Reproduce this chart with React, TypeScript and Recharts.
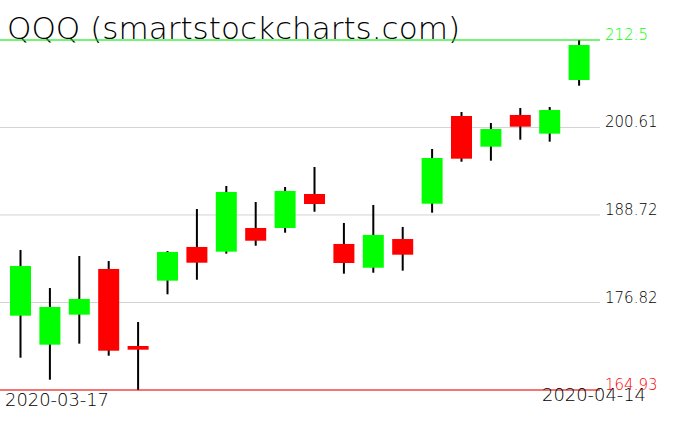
import React from "react";
import { Bar, CartesianGrid, ComposedChart, ReferenceLine, XAxis, YAxis } from "recharts";

document.body.style.margin = "0";

const dates = [
  "2020-03-17", "2020-03-18", "2020-03-19", "2020-03-20", "2020-03-23",
  "2020-03-24", "2020-03-25", "2020-03-26", "2020-03-27", "2020-03-30",
  "2020-03-31", "2020-04-01", "2020-04-02", "2020-04-03", "2020-04-06",
  "2020-04-07", "2020-04-08", "2020-04-09", "2020-04-13", "2020-04-14",
];
const opens = [
  175.03, 171.09, 175.17, 181.38, 170.91, 179.79, 184.37, 183.73, 186.95, 186.95,
  191.57, 184.78, 181.55, 185.45, 190.25, 202.17, 198.0, 202.31, 199.77, 207.06,
];
const highs = [
  183.96, 178.79, 183.14, 182.46, 174.17, 183.82, 189.53, 192.66, 190.48, 192.52,
  195.24, 187.63, 190.08, 187.09, 197.69, 202.71, 201.22, 203.26, 203.39, 212.5,
];
const lows = [
  169.32, 166.33, 171.23, 169.59, 164.93, 177.94, 179.92, 183.46, 184.54, 186.31,
  189.16, 180.74, 180.87, 181.15, 189.03, 195.96, 196.1, 198.95, 198.68, 206.29,
];
const closes = [
  181.78, 176.21, 177.3, 170.27, 170.41, 183.69, 182.23, 191.84, 185.22, 191.98,
  190.21, 182.19, 186.0, 183.32, 196.46, 196.37, 200.4, 200.72, 202.99, 211.82,
];
const yTicks = [164.93, 176.82, 188.72, 200.61, 212.5];
const title = "QQQ (smartstockcharts.com)";

const data = dates.map((date, i) => ({
  date,
  open: opens[i],
  high: highs[i],
  low: lows[i],
  close: closes[i],
  range: [lows[i], highs[i]],
}));

const Candle = (props: any) => {
  const { x, y, width, height, payload } = props;
  const { open, close, high, low } = payload;
  const k = high === low ? 0 : height / (high - low);
  const top = y + (high - Math.max(open, close)) * k;
  const bottom = y + (high - Math.min(open, close)) * k;
  const cx = x + width / 2;
  const up = close >= open;
  return (
    <g>
      <rect x={cx - 1} y={y} width={2} height={height} fill="#000000" />
      <rect
        x={x}
        y={top}
        width={width}
        height={Math.max(bottom - top, 1)}
        fill={up ? "#00ff00" : "#ff0000"}
      />
    </g>
  );
};

const PriceTick = (props: any) => {
  const { y, payload } = props;
  const v = payload.value;
  const color = v === yTicks[yTicks.length - 1] ? "#00ff00" : v === yTicks[0] ? "#ff0000" : "#000000";
  return (
    <text x={605} y={y} fill={color} fontSize={15} fontFamily="DejaVu Sans" fontWeight={200} textAnchor="start">
      {String(v)}
    </text>
  );
};

const DateTick = (props: any) => {
  const { payload } = props;
  const first = payload.value === dates[0];
  return (
    <text
      x={first ? 5 : 646}
      y={first ? 406 : 401}
      fill="#000000"
      fontSize={17.5}
      fontFamily="DejaVu Sans"
      fontWeight={200}
      textAnchor={first ? "start" : "end"}
      textLength={104}
      lengthAdjust="spacingAndGlyphs"
    >
      {payload.value}
    </text>
  );
};

export default function App() {
  return (
    <div style={{ width: 676, height: 431, background: "#ffffff" }}>
      <ComposedChart width={676} height={431} data={data} margin={{ top: 40, right: 0, bottom: 0, left: 0 }}>
        <text
          x={7}
          y={39}
          fontSize={31}
          fontFamily="DejaVu Sans"
          fontWeight={200}
          fill="#000000"
          textLength={453}
          lengthAdjust="spacingAndGlyphs"
        >
          {title}
        </text>
        <CartesianGrid vertical={false} stroke="#d3d3d3" />
        <XAxis
          dataKey="date"
          ticks={[dates[0], dates[dates.length - 1]]}
          interval={0}
          tick={<DateTick />}
          axisLine={false}
          tickLine={false}
          height={41}
          padding={{ left: 6, right: 6 }}
        />
        <YAxis
          orientation="right"
          width={76}
          domain={[yTicks[0], yTicks[yTicks.length - 1]]}
          ticks={yTicks}
          interval={0}
          allowDataOverflow
          axisLine={false}
          tickLine={false}
          tick={<PriceTick />}
        />
        <ReferenceLine y={yTicks[yTicks.length - 1]} stroke="#00ff00" />
        <ReferenceLine y={yTicks[0]} stroke="#ff0000" />
        <Bar dataKey="range" barSize={21} shape={<Candle />} isAnimationActive={false} />
      </ComposedChart>
    </div>
  );
}
